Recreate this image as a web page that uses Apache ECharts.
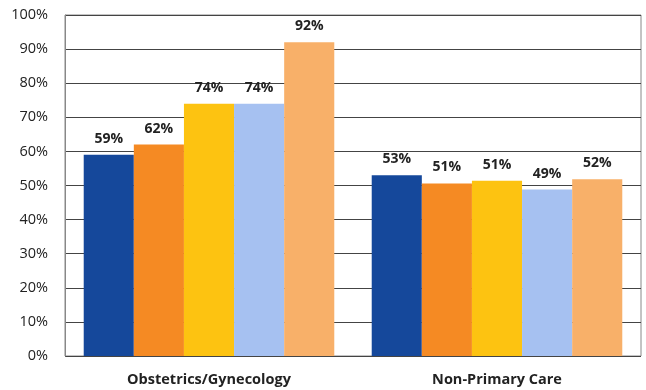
<!DOCTYPE html>
<html>
  <head>
    <meta charset="utf-8">
    <title>ECharts</title>
    <script src="https://cdn.jsdelivr.net/npm/echarts@6/dist/echarts.min.js"></script>
  </head>
  <body style="margin:0;">
    <div id="main" style="width:646px;height:390px;"></div>
    <script type="text/javascript">
      var categories = ['Obstetrics/Gynecology', 'Non-Primary Care'];
      var series1 = [59, 53];
      var series2 = [62, 50.6];
      var series3 = [74, 51.4];
      var series4 = [74, 48.8];
      var series5 = [92, 51.8];
      var colors = ['#15489b', '#f58a23', '#fdc311', '#a6c1f1', '#f8b069'];

      var chart = echarts.init(document.getElementById('main'));
      var font = '"Open Sans", "Noto Sans", sans-serif';

      function bar(data, idx) {
        return {
          type: 'bar',
          data: data,
          barGap: '0%',
          barCategoryGap: '13%',
          itemStyle: { color: colors[idx] },
          label: {
            show: true,
            position: 'top',
            distance: 9,
            formatter: function(p) { return Math.round(p.value) + '%'; },
            color: '#222',
            fontFamily: font,
            fontWeight: 'bold',
            fontSize: 14
          }
        };
      }

      chart.setOption({
        animation: false,
        grid: { left: 65, right: 5, top: 15, bottom: 34, show: true, borderColor: '#888', borderWidth: 1 },
        xAxis: {
          type: 'category',
          data: categories,
          axisTick: { show: false },
          axisLine: { show: false },
          axisLabel: { color: '#222', fontFamily: font, fontWeight: 'bold', fontSize: 14.5, margin: 16 }
        },
        yAxis: {
          type: 'value',
          min: 0,
          max: 100,
          interval: 10,
          axisLine: { show: true, lineStyle: { color: '#888' } },
          axisTick: { show: false },
          splitLine: { lineStyle: { color: '#444' } },
          axisLabel: { formatter: '{value}%', color: '#222', fontFamily: font, fontSize: 14.5, margin: 17 }
        },
        series: [bar(series1, 0), bar(series2, 1), bar(series3, 2), bar(series4, 3), bar(series5, 4)]
      });
    </script>
  </body>
</html>
